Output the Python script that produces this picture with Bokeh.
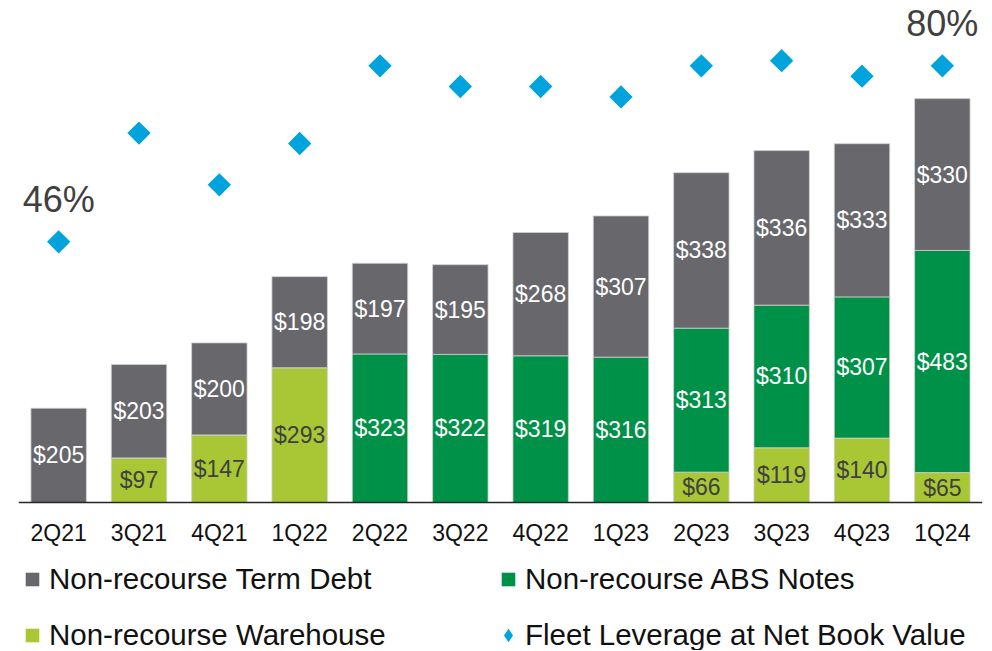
import math
from bokeh.plotting import figure
from bokeh.models import (ColumnDataSource, Range1d, FactorRange, LabelSet,
                          Legend, LegendItem, Span)
from bokeh.core.properties import value
from bokeh.embed import file_html
from bokeh.resources import INLINE

# ---- data ----
quarters = ["2Q21", "3Q21", "4Q21", "1Q22", "2Q22", "3Q22",
            "4Q22", "1Q23", "2Q23", "3Q23", "4Q23", "1Q24"]
warehouse = [0, 97, 147, 293, 0, 0, 0, 0, 66, 119, 140, 65]
abs_notes = [0, 0, 0, 0, 323, 322, 319, 316, 313, 310, 307, 483]
term_debt = [205, 203, 200, 198, 197, 195, 268, 307, 338, 336, 333, 330]
leverage = [46, 67, 57, 65, 80, 76, 76, 74, 80, 81, 78, 80]
leverage_labels = ["46%", "", "", "", "", "", "", "", "", "", "", "80%"]

C_TERM = "#67676C"
C_ABS = "#009149"
C_WH = "#A9C735"
C_LEV = "#00A3DB"
FONT = "Liberation Sans"

p = figure(x_range=FactorRange(*quarters), y_range=Range1d(-321.7, 1091.3),
           frame_width=964, frame_height=650,
           output_backend="svg", toolbar_location=None,
           min_border_left=18, min_border_right=2, min_border_top=0,
           min_border_bottom=0)
p.extra_y_ranges = {"pct": Range1d(-32.96, 92.62)}

src = ColumnDataSource(dict(q=quarters, wh=warehouse, abs=abs_notes, term=term_debt))
p.vbar_stack(["wh", "abs", "term"], x="q", width=0.69, source=src,
             color=[C_WH, C_ABS, C_TERM], line_color="#D0D0D0", line_width=0.8)

# baseline of the category axis (value 0)
p.add_layout(Span(location=0, dimension="width", line_color="#262626", line_width=1.6))

lev_src = ColumnDataSource(dict(q=quarters, v=leverage, t=leverage_labels))
p.scatter("q", "v", source=lev_src, marker="square", angle=math.pi / 4,
          size=16.5, fill_color=C_LEV, line_color=None, y_range_name="pct")
p.add_layout(LabelSet(x="q", y="v", text="t", source=lev_src, y_range_name="pct",
                      y_offset=42, text_align="center", text_baseline="middle",
                      text_font=value(FONT), text_font_size="36px", text_color="#404040"))

# segment value labels
lx, ly, lt, lc = [], [], [], []
for i, q in enumerate(quarters):
    base = 0
    for val, col in ((warehouse[i], "#404040"), (abs_notes[i], "white"), (term_debt[i], "white")):
        if val > 0:
            lx.append(q)
            ly.append(base + val / 2)
            lt.append("$%d" % val)
            lc.append(col)
        base += val
lab_src = ColumnDataSource(dict(x=lx, y=ly, t=lt, c=lc))
p.add_layout(LabelSet(x="x", y="y", text="t", text_color="c", source=lab_src,
                      text_align="center", text_baseline="middle",
                      text_font=value(FONT), text_font_size="23px"))

# category tick labels under the baseline
tick_src = ColumnDataSource(dict(q=quarters, y=[0] * len(quarters)))
p.add_layout(LabelSet(x="q", y="y", text="q", source=tick_src, y_offset=-30,
                      text_align="center", text_baseline="middle",
                      text_font=value(FONT), text_font_size="23px", text_color="#111111"))

# axes / grid
p.xaxis.visible = False
p.yaxis.visible = False
p.xgrid.visible = False
p.ygrid.visible = False
p.outline_line_color = None
p.x_range.range_padding = 0
p.x_range.group_padding = 0
p.x_range.factor_padding = 0

# legend swatches: renderers whose single point has no y value (not drawn in the plot)
def swatch(color, marker="square"):
    s = ColumnDataSource(dict(x=[quarters[0]], y=[float("nan")]))
    return p.scatter("x", "y", source=s, marker=marker, size=15,
                     fill_color=color, line_color=None)

r_term = swatch(C_TERM)
r_abs = swatch(C_ABS)
r_wh = swatch(C_WH)
r_lev = swatch(C_LEV, "diamond")
legend = Legend(items=[
    LegendItem(label="Non-recourse Term Debt", renderers=[r_term]),
    LegendItem(label="Non-recourse ABS Notes", renderers=[r_abs]),
    LegendItem(label="Non-recourse Warehouse", renderers=[r_wh]),
    LegendItem(label="Fleet Leverage at Net Book Value", renderers=[r_lev]),
], orientation="horizontal", ncols=2, location=(-3, -2),
    glyph_width=34, glyph_height=34, label_standoff=0, label_width=420,
    spacing=22, padding=0, margin=0,
    label_text_font=FONT, label_text_font_size="29.5px", label_text_color="#111111",
    border_line_color=None, background_fill_alpha=0)
p.add_layout(legend, "center")

open("out.html", "w").write(file_html(p, INLINE))
